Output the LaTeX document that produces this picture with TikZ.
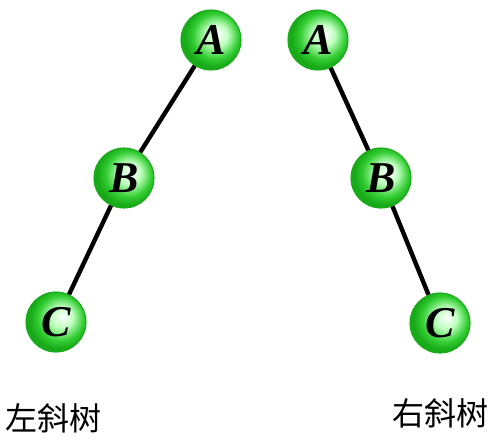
\documentclass[tikz,border=0pt]{standalone}
\usepackage{fontspec}
\setmainfont{Liberation Serif}
\newfontfamily\cjk{Noto Sans CJK SC}
\usepackage{tikz}
\definecolor{ballgreen}{RGB}{50, 205, 50}
\definecolor{rimgreen}{RGB}{25, 170, 25}
\pgfdeclareradialshading{greenball}{\pgfpoint{6bp}{5bp}}{%
  color(0bp)=(white); color(9bp)=(green!25!white); color(19bp)=(ballgreen);
  color(25bp)=(rimgreen); color(50bp)=(rimgreen)}
\tikzset{
  treenode/.style={circle, minimum size=60*0.75pt, inner sep=0pt,
    shading=greenball, draw=rimgreen, line width=0.8pt,
    font=\fontsize{33}{34}\selectfont\bfseries\itshape},
  edge/.style={line width=3.3pt, black},
  caption/.style={font=\cjk\fontsize{24}{26}\selectfont}
}

\begin{document}
\begin{tikzpicture}[x=0.75pt, y=-0.75pt]
    \useasboundingbox (0,0) rectangle (500,447);
    % left skewed tree
    \node[treenode] (la) at (211,40) {A};
    \node[treenode] (lb) at (124,178) {B};
    \node[treenode] (lc) at (56,322) {C};
    \draw[edge] (la) -- (lb);
    \draw[edge] (lb) -- (lc);
    % right skewed tree
    \node[treenode] (ra) at (318,40) {A};
    \node[treenode] (rb) at (381,178) {B};
    \node[treenode] (rc) at (440,323) {C};
    \draw[edge] (ra) -- (rb);
    \draw[edge] (rb) -- (rc);
    \node[caption] (lcap) at (54,418) {左斜树};
    \node[caption] (rcap) at (440,413) {右斜树};
\end{tikzpicture}
\end{document}
